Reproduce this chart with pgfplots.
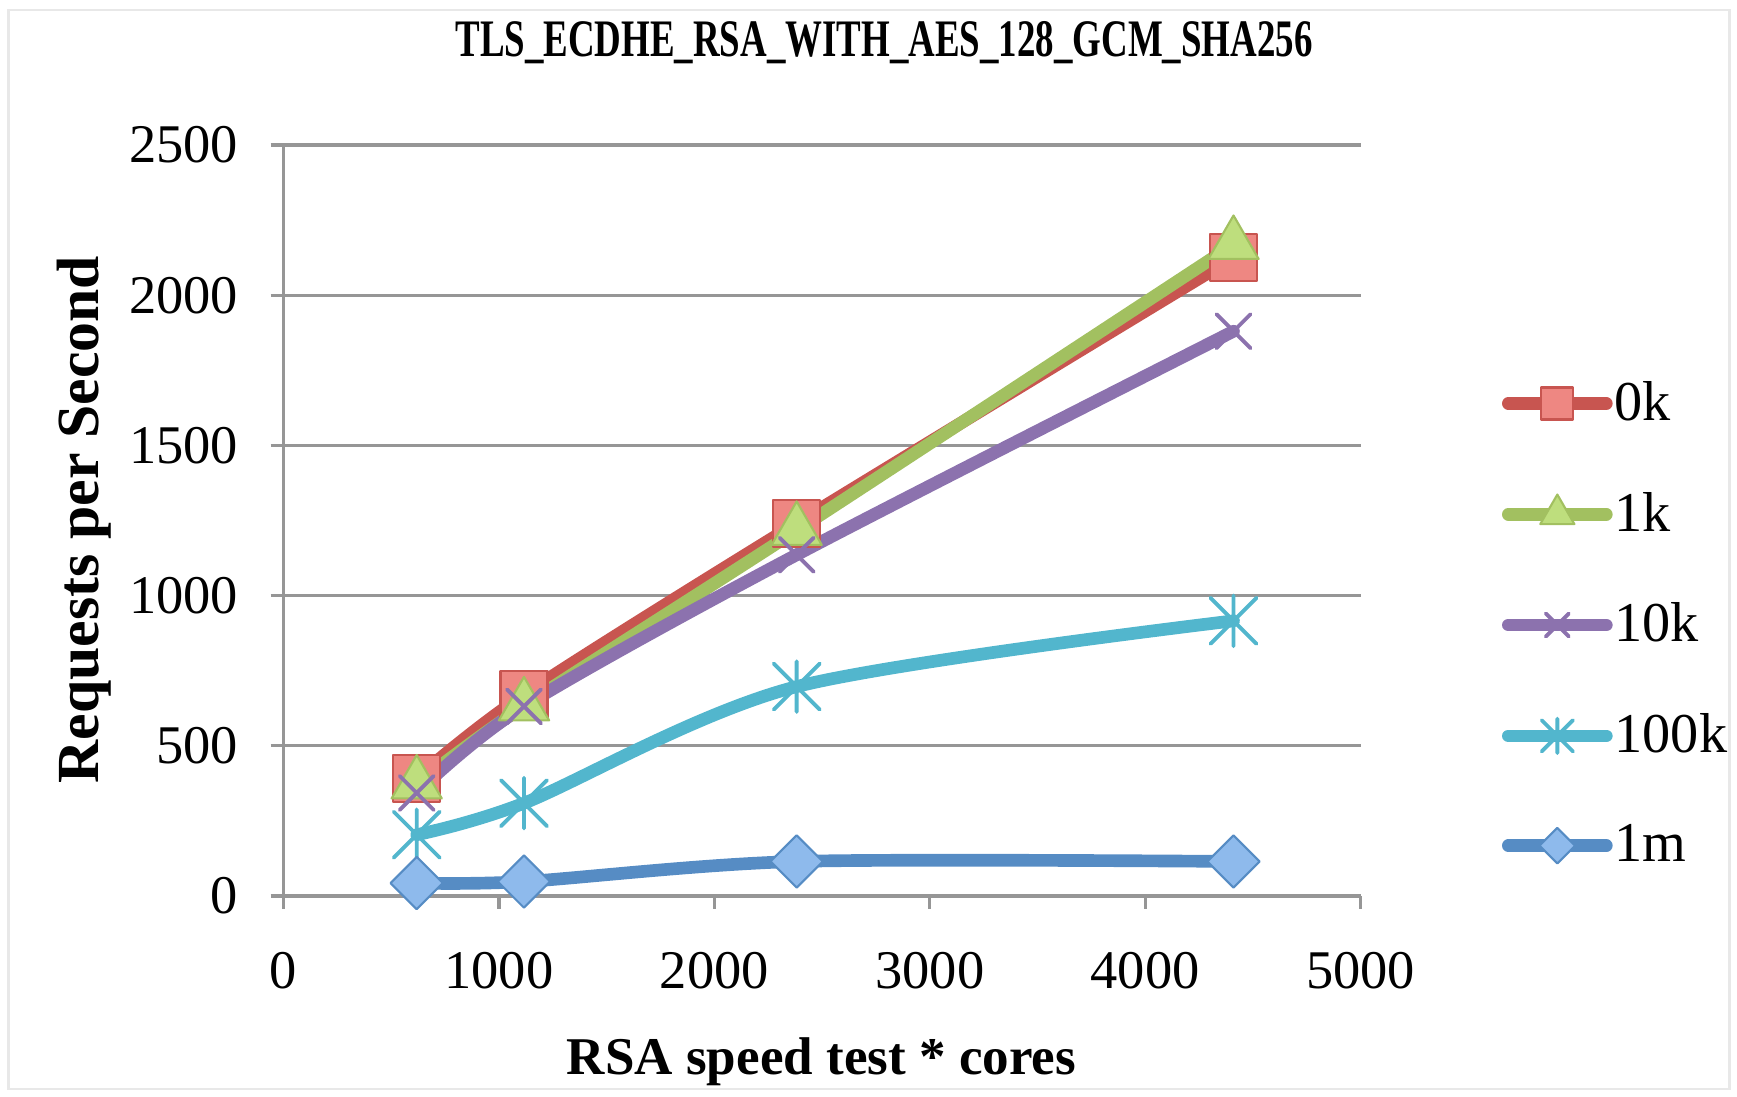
\documentclass[border=0pt]{standalone}
\usepackage{fontspec}
\setmainfont{Liberation Serif}
\usepackage{pgfplots}
\pgfplotsset{compat=1.18}
\definecolor{cRed}{RGB}{200,85,80}
\definecolor{cRedF}{RGB}{238,135,130}
\definecolor{cGreen}{RGB}{162,192,96}
\definecolor{cGreenF}{RGB}{190,222,125}
\definecolor{cPurple}{RGB}{140,114,174}
\definecolor{cCyan}{RGB}{82,182,205}
\definecolor{cBlue}{RGB}{86,140,196}
\definecolor{cBlueF}{RGB}{142,186,236}
\definecolor{gridgray}{RGB}{150,150,150}
\pgfdeclareplotmark{xstar}{%
  \pgfpathmoveto{\pgfqpoint{-\pgfplotmarksize}{-\pgfplotmarksize}}%
  \pgfpathlineto{\pgfqpoint{\pgfplotmarksize}{\pgfplotmarksize}}%
  \pgfpathmoveto{\pgfqpoint{-\pgfplotmarksize}{\pgfplotmarksize}}%
  \pgfpathlineto{\pgfqpoint{\pgfplotmarksize}{-\pgfplotmarksize}}%
  \pgfpathmoveto{\pgfqpoint{0pt}{-1.1\pgfplotmarksize}}%
  \pgfpathlineto{\pgfqpoint{0pt}{1.1\pgfplotmarksize}}%
  \pgfusepathqstroke}
\begin{document}
\begin{tikzpicture}
\useasboundingbox (-28.36mm,-20.1mm) rectangle (145.34mm,89.6mm);
\draw[black!9, line width=0.8pt] (-27.5mm,-19.3mm) rectangle (144.6mm,88.6mm);
\begin{axis}[
  scale only axis, width=107.7mm, height=75.1mm,
  xmin=0, xmax=5000, ymin=0, ymax=2500,
  axis lines*=left,
  xtick={0,1000,...,5000}, ytick={0,500,...,2500},
  ymajorgrids,
  major grid style={gridgray, line width=0.9pt},
  axis line style={gridgray, line width=0.9pt},
  tick style={gridgray, line width=0.9pt},
  tick align=outside, major tick length=1.3mm,
  ticklabel style={font=\fontsize{15.5}{18}\selectfont, black},
  yticklabel style={xshift=-2mm},
  xticklabel style={yshift=-3.1mm},
  /pgf/number format/assume math mode=true,
  scaled ticks=false, /pgf/number format/1000 sep={},
  title={\scalebox{0.70}[1]{\bfseries TLS\_ECDHE\_RSA\_WITH\_AES\_128\_GCM\_SHA256}},
  title style={at={(0.5575,1.108)}, anchor=center, font=\fontsize{15}{17}\selectfont, inner sep=0pt},
  xlabel={\bfseries RSA speed test * cores},
  xlabel style={at={(0.4994,-0.2204)}, anchor=center, font=\fontsize{15.1}{18}\selectfont, inner sep=0pt},
  ylabel={\bfseries Requests per Second},
  ylabel style={at={(-0.185,0.5012)}, anchor=center, rotate=0, font=\fontsize{17}{20}\selectfont, inner sep=0pt},
  legend style={at={(1.1313,0.6853)}, anchor=north west, draw=none, fill=none,
    inner sep=0pt, outer sep=0pt, row sep=6.65mm, column sep=0.2mm,
    font=\fontsize{16}{19}\selectfont, nodes={inner sep=0pt}},
  legend cell align=left,
  legend image code/.code={\pgfsetbaseline{-1.9mm}\draw[mark repeat=2, mark phase=2, #1, every mark/.append style={scale=0.68}]
     plot coordinates {(0mm,0mm) (4.9mm,0mm) (9.8mm,0mm)};},
  every axis plot/.append style={line width=3.6pt, line cap=round, line join=round, smooth},
]
\addplot[cRed, mark=square*, mark size=2.35mm, mark options={fill=cRedF, draw=cRed, line width=0.6pt, solid}]
  coordinates {(618,392) (1116,670) (2382,1241) (4410,2125)};
\addlegendentry{0k}
\addplot[cGreen, mark=triangle*, mark size=2.9mm, mark options={fill=cGreenF, draw=cGreen, line width=0.6pt, solid}]
  coordinates {(618,373) (1116,633) (2382,1217) (4410,2169)};
\addlegendentry{1k}
\addplot[cPurple, mark=x, mark size=2.4mm, mark options={draw=cPurple, line width=1.1pt, solid}]
  coordinates {(618,343) (1116,631) (2382,1136) (4410,1880)};
\addlegendentry{10k}
\addplot[cCyan, mark=xstar, mark size=2.3mm, mark options={draw=cCyan, line width=1.1pt, solid}]
  coordinates {(618,204) (1116,309) (2382,697) (4410,916)};
\addlegendentry{100k}
\addplot[cBlue, mark=square*, mark size=1.85mm, mark options={rotate=45, fill=cBlueF, draw=cBlue, line width=0.6pt, solid}]
  coordinates {(618,43) (1116,48) (2382,115) (4410,115)};
\addlegendentry{1m}
\end{axis}
\end{tikzpicture}
\end{document}
